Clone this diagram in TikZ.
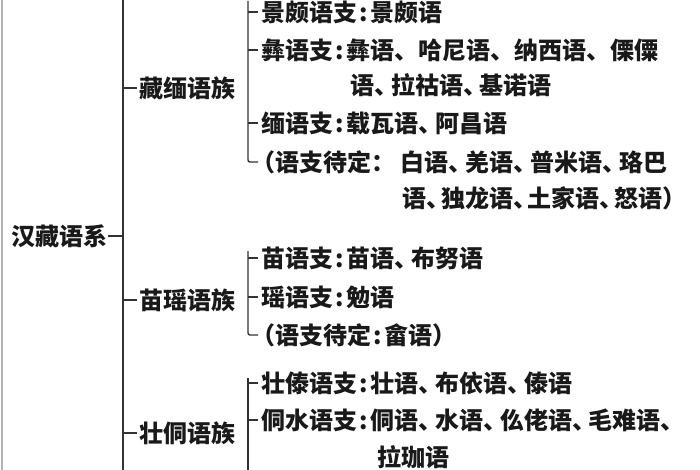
\documentclass[tikz,border=0pt]{standalone}
\usepackage{fontspec}
\setmainfont{Noto Sans CJK SC}
\newcommand{\dn}{、\kern-0.3em}
\newcommand{\dnn}{、\kern-0.38em}
\newcommand{\cn}{\kern0.08em:\kern0.12em}
\begin{document}
\begin{tikzpicture}[x=1pt,y=-1pt,
  txt/.style={anchor=west, inner sep=0pt, font=\fontsize{24}{24}\selectfont\bfseries, text=black!90},
  ln/.style={line width=1.4pt, draw=black!80},
  border/.style={line width=2pt, draw=black!30}]
\useasboundingbox (0,0) rectangle (700,470);
\fill[white] (0,0) rectangle (700,470);
\draw[border] (2,0) -- (2,470);
% coordinates
\coordinate (mtop) at (123,0);
\coordinate (mbot) at (123,470);
\coordinate (b1top) at (248,1);
\coordinate (b2top) at (248,251);
\coordinate (b3top) at (248,378);
\coordinate (b3bot) at (248,470);
% nodes
\node[txt] (root) at (11,236) {汉藏语系};
\node[txt] (f1) at (139,88) {藏缅语族};
\node[txt] (f2) at (139,300) {苗瑶语族};
\node[txt] (f3) at (139,433) {壮侗语族};
\node[txt] (a1) at (261,12) {景颇语支\cn 景颇语};
\node[txt] (a2) at (261,50) {彝语支\cn 彝语、哈尼语、纳西语、傈僳};
\node[txt] (a2b) at (350,85) {语\dn 拉祜语\dn 基诺语};
\node[txt] (a3) at (261,123) {缅语支\cn 载瓦语\dn 阿昌语};
\node[txt] (a4) at (251,162) {（语支待定： 白语\dn 羌语\dn 普米语\dn 珞巴};
\node[txt] (a4b) at (402,198) {语\dnn 独龙语\dnn 土家语\dnn 怒语）};
\node[txt] (b1) at (261,258) {苗语支\cn 苗语\dn 布努语};
\node[txt] (b2) at (261,297) {瑶语支\cn 勉语};
\node[txt] (b3) at (251,335) {（语支待定\cn 畲语）};
\node[txt] (c1) at (261,383) {壮傣语支\cn 壮语\dn 布依语\dn 傣语};
\node[txt] (c2) at (261,420) {侗水语支\cn 侗语\dn 水语\dn 仫佬语\dn 毛难语、};
\node[txt] (c2b) at (377,457) {拉珈语};
% main line
\draw[ln] (mtop) -- (mbot);
\draw[ln] ([xshift=1]root.east) -- (root.east -| mtop);
\foreach \f in {f1,f2,f3} \draw[ln] (\f.west -| mtop) -- ++(14,0);
% bracket 1
\draw[ln,rounded corners=2pt] (b1top) -- (a4.west -| b1top) -- ++(10,0);
\foreach \n in {a1,a2,a3} \draw[ln] (\n.west -| b1top) -- ++(10,0);
% bracket 2
\draw[ln,rounded corners=2pt] (b2top) -- (b3.west -| b2top) -- ++(10,0);
\foreach \n in {b1,b2} \draw[ln] (\n.west -| b2top) -- ++(10,0);
% bracket 3
\draw[ln] (b3top) -- (b3bot);
\foreach \n in {c1,c2} \draw[ln] (\n.west -| b3top) -- ++(10,0);
\end{tikzpicture}
\end{document}
